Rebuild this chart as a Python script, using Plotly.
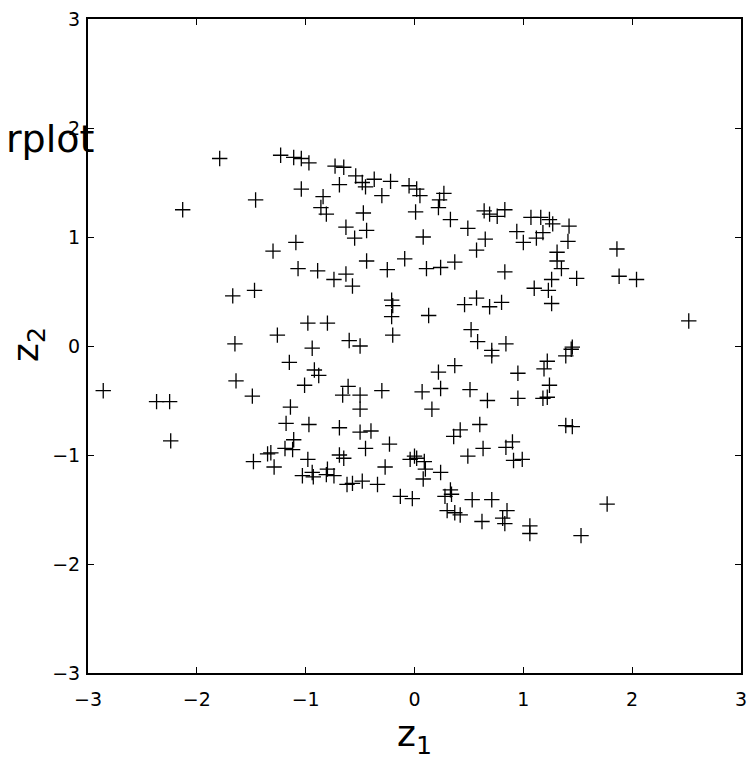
import plotly.graph_objects as go

z1 = [
    -1.79, -1.46, -2.13, -1.67, -1.47, -1.65,
    -1.23, -1.11, -1.04, -0.97, -0.73, -0.65, -0.54, -0.69, -0.48, -0.45, -0.37, -0.22, -0.05,
    -1.04, -0.84, -0.30, -0.86, -0.81, -0.47, -0.63, -0.44, -0.55, -1.09, -1.30, -0.44, -0.09,
    -1.07, -0.89, -0.63, -0.74, -0.57, -0.25, -0.21, -0.20, -0.21, -0.98, -0.80, -1.26, -0.20,
    -0.94, -0.60, -0.50,
    0.02, 0.05, 0.23, 0.27, 0.22, 0.01, 0.33, 0.49, 0.64, 0.69, 0.76, 0.83, 0.65, 0.57, 0.08,
    0.94, 1.00, 1.07, 1.16, 1.24, 1.27, 1.42, 1.12, 1.18, 1.41, 1.31, 1.31, 1.35, 1.26, 1.10,
    1.23, 1.26, 0.11, 0.24, 0.37, 0.83, 0.13, 0.46, 0.57, 0.69, 0.80, 0.52, 0.58, 0.71, 0.84,
    1.45,
    1.86, 1.49, 1.88, 2.04, 2.52,
    -2.86, -2.37, -2.25, -2.24, -1.64, -1.49, -1.48,
    -1.15, -0.92, -0.88, -1.01, -0.61, -0.66, -0.50, -0.30, -0.50, -1.14, -1.18, -0.97, -0.69,
    -0.50, -0.40, -1.11, -1.19, -1.12, -1.32, -1.35, -0.45, -0.23, -0.69, -0.65, -0.98, -1.29,
    -0.27, -0.04, 0.00, -1.03, -0.94, -0.93, -0.80, -0.81, -0.74, -0.62, -0.57, -0.48, -0.34,
    -0.13, -0.02,
    0.71, 1.44, 1.39, 0.37, 0.22, 0.95, 1.22, 1.19, 1.24, 0.07, 0.24, 0.51, 0.67, 0.95, 1.18,
    1.22, 0.16, 0.60, 0.42, 0.36, 1.39, 1.45, 0.63, 0.49, 0.84, 0.90, 0.91, 0.99, 0.02, 0.09,
    0.10, 0.08, 0.24, 0.33, 0.28, 0.34, 0.53, 0.71, 0.30, 0.37, 0.42, 0.62, 0.85, 0.81, 0.83,
    1.06, 1.06,
    1.77, 1.53,
]

z2 = [
    1.72, 1.34, 1.25, 0.46, 0.51, 0.02,
    1.75, 1.73, 1.72, 1.68, 1.65, 1.64, 1.56, 1.48, 1.50, 1.46, 1.53, 1.51, 1.47,
    1.44, 1.37, 1.38, 1.27, 1.21, 1.22, 1.09, 1.06, 0.99, 0.95, 0.87, 0.78, 0.80,
    0.71, 0.69, 0.66, 0.61, 0.55, 0.70, 0.42, 0.37, 0.27, 0.21, 0.21, 0.10, 0.10,
    -0.02, 0.05, 0.00,
    1.44, 1.38, 1.34, 1.40, 1.27, 1.23, 1.16, 1.08, 1.24, 1.21, 1.19, 1.25, 0.98, 0.88, 1.00,
    1.05, 0.95, 1.18, 1.18, 1.16, 1.12, 1.10, 0.99, 1.04, 0.96, 0.86, 0.78, 0.71, 0.61, 0.53,
    0.51, 0.39, 0.71, 0.72, 0.77, 0.68, 0.28, 0.38, 0.44, 0.36, 0.40, 0.15, 0.04, -0.04, 0.02,
    -0.01,
    0.89, 0.62, 0.64, 0.61, 0.23,
    -0.41, -0.51, -0.51, -0.87, -0.32, -0.46, -1.06,
    -0.15, -0.22, -0.27, -0.36, -0.37, -0.45, -0.45, -0.41, -0.58, -0.56, -0.71, -0.72, -0.75,
    -0.79, -0.78, -0.86, -0.94, -0.95, -0.98, -0.99, -0.94, -0.90, -1.00, -1.03, -1.04, -1.11,
    -1.11, -1.04, -1.01, -1.19, -1.16, -1.20, -1.13, -1.18, -1.19, -1.27, -1.26, -1.24, -1.27,
    -1.38, -1.40,
    -0.09, -0.03, -0.09, -0.18, -0.24, -0.25, -0.14, -0.21, -0.36, -0.42, -0.39, -0.40, -0.50, -0.48, -0.48,
    -0.47, -0.58, -0.72, -0.77, -0.83, -0.73, -0.74, -0.94, -1.01, -0.93, -0.88, -1.05, -1.04, -1.03, -1.06,
    -1.13, -1.22, -1.16, -1.32, -1.38, -1.36, -1.41, -1.41, -1.51, -1.53, -1.55, -1.61, -1.51, -1.58, -1.63,
    -1.65, -1.72,
    -1.45, -1.74,
]

tick_vals = [-3, -2, -1, 0, 1, 2, 3]
tick_text = ["\u22123", "\u22122", "\u22121", "0", "1", "2", "3"]

FONT = "DejaVu Sans, Liberation Sans, sans-serif"

fig = go.Figure()
fig.add_trace(go.Scatter(
    x=z1, y=z2, mode="markers",
    marker=dict(symbol="cross-thin", size=11, color="black",
                line=dict(color="black", width=1.3)),
    showlegend=False, hoverinfo="skip",
))

axis_common = dict(
    range=[-3, 3], tickmode="array", tickvals=tick_vals, ticktext=tick_text,
    ticks="inside", ticklen=6, tickwidth=1, tickcolor="black",
    showline=True, linecolor="black", linewidth=2, mirror="ticks",
    showgrid=False, zeroline=False,
    tickfont=dict(family=FONT, size=19, color="black"),
)

fig.update_xaxes(**axis_common, ticklabelstandoff=8)
fig.update_yaxes(**axis_common, ticklabelstandoff=2)

fig.add_annotation(
    text="z<sub>1</sub>", xref="paper", yref="paper",
    x=0.500, y=-0.097, xanchor="center", yanchor="middle",
    showarrow=False, font=dict(family=FONT, size=36, color="black"),
)
fig.add_annotation(
    text="z<sub>2</sub>", xref="paper", yref="paper",
    x=-0.092, y=0.503, xanchor="center", yanchor="middle", textangle=-90,
    showarrow=False, font=dict(family=FONT, size=36, color="black"),
)
fig.add_annotation(
    text="rplot", xref="paper", yref="paper",
    x=0.012, y=0.816, xanchor="right", yanchor="middle",
    showarrow=False, font=dict(family=FONT, size=38, color="black"),
)

fig.update_layout(
    width=755, height=767,
    margin=dict(l=88, r=8, t=14, b=94),
    paper_bgcolor="white", plot_bgcolor="white",
)

fig.write_html("out.html", config={"displayModeBar": False},
               post_script="document.body.style.margin='0px';")
